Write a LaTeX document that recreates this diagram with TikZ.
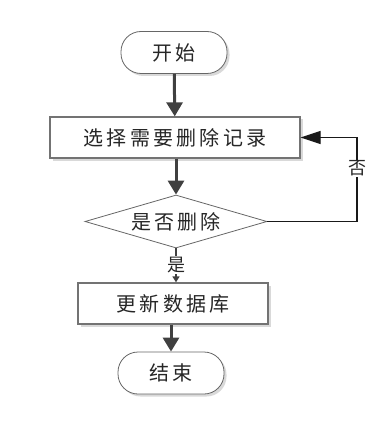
\documentclass[tikz,border=0pt]{standalone}
\usepackage{fontspec}
\newfontfamily\cjk{Noto Sans CJK SC}[LetterSpace=16]
\newfontfamily\cjksmall{Noto Sans CJK SC}
\usetikzlibrary{shapes.geometric,arrows.meta,shadows}
\begin{document}
\begin{tikzpicture}[x=1pt,y=-1pt,
  boxshadow/.style={drop shadow={shadow xshift=2.5pt,shadow yshift=-2.5pt,fill=black!15,opacity=1}},
  term/.style={draw=black!60,line width=0.8pt,fill=white,rounded corners=20pt,minimum width=106pt,minimum height=42pt,inner sep=0pt,font=\cjk\fontsize{20}{20}\selectfont,text=black!85,boxshadow},
  proc/.style={draw=black!55,line width=1.3pt,fill=white,minimum height=41pt,inner sep=0pt,font=\cjk\fontsize{20}{20}\selectfont,text=black!85,boxshadow},
  decide/.style={diamond,draw=black!60,line width=0.8pt,fill=white,aspect=3.4,minimum width=182pt,minimum height=53pt,inner sep=0pt,font=\cjk\fontsize{20}{20}\selectfont,text=black!85},
  flow/.style={draw=black!75,line width=3pt,-{Triangle[length=14pt,width=16pt]}},
  thinflow/.style={draw=black!75,line width=1.6pt,-{Triangle[length=6pt,width=7pt]}},
  back/.style={draw=black!90,line width=1.2pt,-{Triangle[length=20pt,width=13pt]}},
  lbl/.style={fill=white,inner sep=1pt,font=\cjksmall\fontsize{18}{18}\selectfont,text=black!85}
]
\useasboundingbox (0,0) rectangle (387,422);
\node[term] (start) at (174,52.5) {开始};
\node[proc,minimum width=250pt] (sel) at (175,137.5) {选择需要删除记录};
\node[decide] (dec) at (176,221.5) {是否删除};
\node[proc,minimum width=190pt] (upd) at (173,303.5) {更新数据库};
\node[term] (end) at (171,373) {结束};
\coordinate (fbx) at (357,0);
\draw[flow] (start) -- (sel);
\draw[flow] (sel.south -| dec.north) -- (dec.north);
\draw[thinflow] (dec.south) -- node[lbl,pos=0.5] (yes) {是} (dec.south |- upd.north);
\draw[flow] (upd.south -| end.north) -- (end.north);
\draw[back] (dec.east) -- (dec.east -| fbx) -- node[lbl,pos=0.63] (no) {否} (sel.east -| fbx) -- (sel.east);
\end{tikzpicture}
\end{document}
